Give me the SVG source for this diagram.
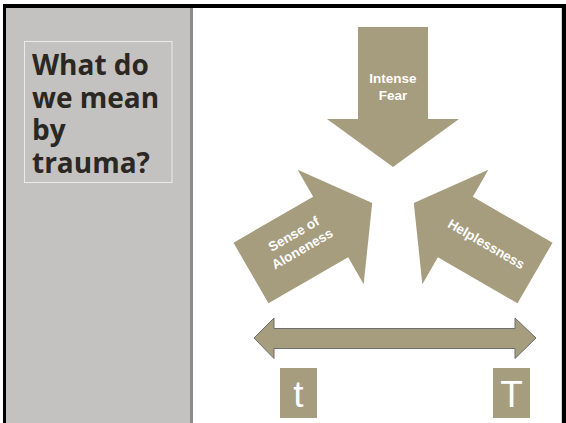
<svg xmlns="http://www.w3.org/2000/svg" width="566" height="423" viewBox="0 0 566 423">
<defs>
<style>
.arrow{fill:#a69c7e;}
.lbl{font-family:"Liberation Sans",Arial,sans-serif;font-weight:bold;font-size:13.5px;fill:#ffffff;text-anchor:middle;}
.title{font-family:"Open Sans","DejaVu Sans",sans-serif;font-weight:bold;font-size:28px;fill:#2b2722;}
.big{font-family:"Liberation Sans",Arial,sans-serif;font-size:37px;fill:#ffffff;text-anchor:middle;}
</style>
<path id="arr" d="M0,0 L-48,-66 L-48,-35 L-140,-35 L-140,35 L-48,35 L-48,66 Z"/>
</defs>
<rect x="0" y="0" width="566" height="423" fill="#ffffff"/>
<rect x="3" y="4" width="563" height="4" fill="#000000"/>
<rect x="3" y="4" width="3" height="419" fill="#000000"/>
<rect x="562" y="4" width="4" height="419" fill="#000000"/>
<rect x="561" y="8" width="1" height="415" fill="#d0d0d0"/>
<g id="side-panel">
<rect x="6" y="8" width="184" height="415" fill="#c3c2c0"/>
<rect x="190" y="8" width="3" height="415" fill="#8c8c8c"/>
</g>
<g id="title">
<rect x="24.5" y="41.5" width="147.5" height="141" fill="none" stroke="#ebebeb" stroke-width="1"/>
<text class="title" x="32" y="75">What do</text>
<text class="title" x="32" y="107.5">we mean</text>
<text class="title" x="32" y="140">by</text>
<text class="title" x="32" y="172.5">trauma?</text>
</g>
<g id="intense-fear">
<use href="#arr" class="arrow" transform="translate(393,191) rotate(90) translate(-24,0)"/>
<text class="lbl" x="393" y="83">Intense</text>
<text class="lbl" x="393" y="100">Fear</text>
</g>
<g id="sense-of-aloneness">
<use href="#arr" class="arrow" transform="translate(393,191) rotate(-30) translate(-24,0)"/>
<g transform="translate(296,238) rotate(-30)">
<text class="lbl" x="0" y="0">Sense of</text>
<text class="lbl" x="0" y="17">Aloneness</text>
</g>
</g>
<g id="helplessness">
<use href="#arr" class="arrow" transform="translate(393,191) rotate(210) translate(-24,0)"/>
<text class="lbl" transform="translate(484,248) rotate(30)" x="0" y="0">Helplessness</text>
</g>
<g id="connectors">
<polygon points="254,338 274,318 274,328.5 515,328.5 515,318 536,338 515,358.5 515,348.5 274,348.5 274,358.5" fill="#a69c7e" stroke="#6e6e6e" stroke-width="1"/>
</g>
<g id="t-small">
<rect x="280" y="368" width="37" height="50" fill="#a69c7e"/>
<text class="big" x="298.5" y="407">t</text>
</g>
<g id="t-big">
<rect x="493" y="368" width="37" height="50" fill="#a69c7e"/>
<text class="big" x="511.5" y="407">T</text>
</g>
</svg>
